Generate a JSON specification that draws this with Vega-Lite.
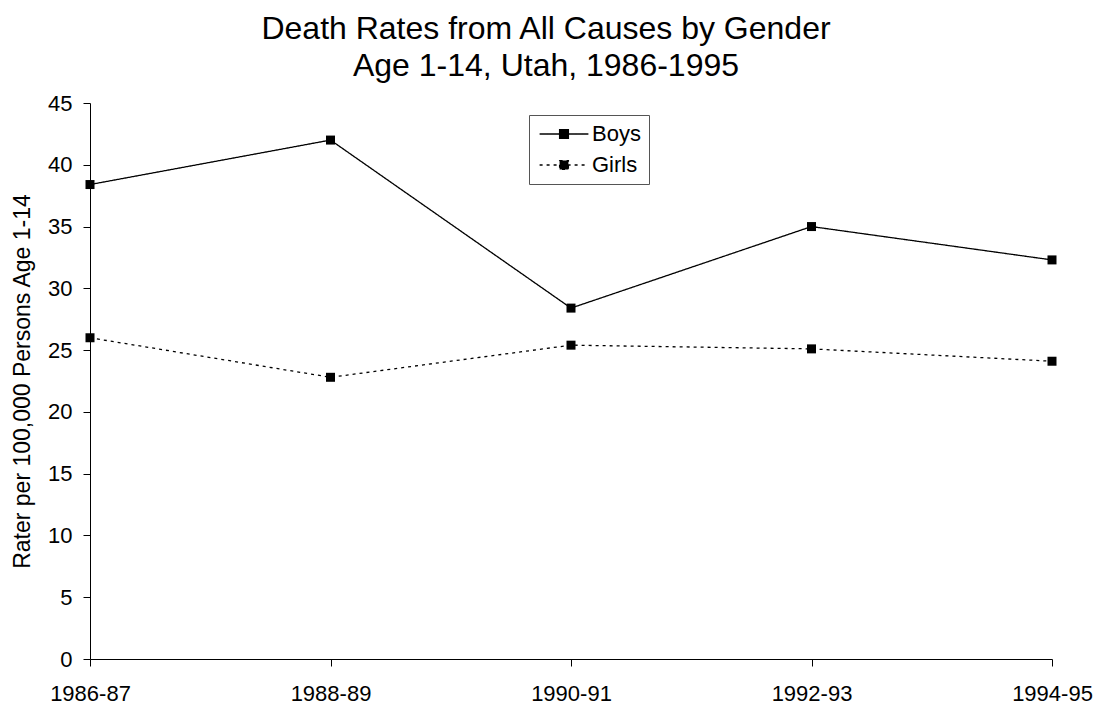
{
  "$schema": "https://vega.github.io/schema/vega-lite/v6.json",
  "width": 962,
  "height": 556,
  "autosize": {"type": "none"},
  "padding": {"left": 90, "top": 103, "right": 50, "bottom": 54},
  "background": "white",
  "config": {
    "font": "Liberation Sans",
    "view": {"stroke": null},
    "axis": {"grid": false, "domainColor": "black", "tickColor": "black", "labelColor": "black", "titleColor": "black", "labelFontSize": 22, "titleFontSize": 23, "titleFontWeight": "normal", "tickSize": 7, "domainWidth": 1, "tickWidth": 1}
  },
  "title": {
    "text": ["Death Rates from All Causes by Gender", "Age 1-14, Utah, 1986-1995"],
    "fontSize": 32,
    "fontWeight": "normal",
    "color": "black",
    "lineHeight": 37,
    "anchor": "middle",
    "dx": -25,
    "offset": 9
  },
  "data": {
    "values": [
      {"period": "1986-87", "gender": "Boys", "rate": 38.4},
      {"period": "1988-89", "gender": "Boys", "rate": 42.0},
      {"period": "1990-91", "gender": "Boys", "rate": 28.4},
      {"period": "1992-93", "gender": "Boys", "rate": 35.0},
      {"period": "1994-95", "gender": "Boys", "rate": 32.3},
      {"period": "1986-87", "gender": "Girls", "rate": 26.0},
      {"period": "1988-89", "gender": "Girls", "rate": 22.8},
      {"period": "1990-91", "gender": "Girls", "rate": 25.4},
      {"period": "1992-93", "gender": "Girls", "rate": 25.1},
      {"period": "1994-95", "gender": "Girls", "rate": 24.1}
    ]
  },
  "encoding": {
    "x": {
      "field": "period", "type": "ordinal", "title": null,
      "scale": {"type": "point", "padding": 0},
      "axis": {"labelAngle": 0, "labelPadding": 17}
    },
    "y": {
      "field": "rate", "type": "quantitative",
      "title": "Rater per 100,000 Persons Age 1-14",
      "scale": {"domain": [0, 45], "nice": false},
      "axis": {"values": [0, 5, 10, 15, 20, 25, 30, 35, 40, 45], "labelPadding": 11, "titlePadding": 13}
    }
  },
  "layer": [
    {
      "mark": {"type": "line", "color": "black", "strokeWidth": 1.3},
      "encoding": {
        "strokeDash": {
          "field": "gender", "type": "nominal",
          "scale": {"domain": ["Boys", "Girls"], "range": [[1, 0], [3, 4]]},
          "legend": {
            "title": null,
            "orient": "none",
            "legendX": 439,
            "legendY": 12,
            "strokeColor": "#555",
            "fillColor": "white",
            "padding": 8,
            "labelFontSize": 22,
            "labelColor": "black",
            "labelOffset": 17,
            "symbolOffset": 16,
            "rowPadding": 9,
            "symbolType": "M-3.05,0L3.05,0M-0.55,-0.55L0.55,-0.55L0.55,0.55L-0.55,0.55Z",
            "symbolSize": 256,
            "symbolFillColor": "black",
            "symbolStrokeColor": "black",
            "symbolStrokeWidth": 1.3
          }
        }
      }
    },
    {
      "mark": {"type": "point", "shape": "square", "filled": true, "color": "black", "size": 81, "opacity": 1},
      "encoding": {"detail": {"field": "gender"}}
    }
  ]
}
